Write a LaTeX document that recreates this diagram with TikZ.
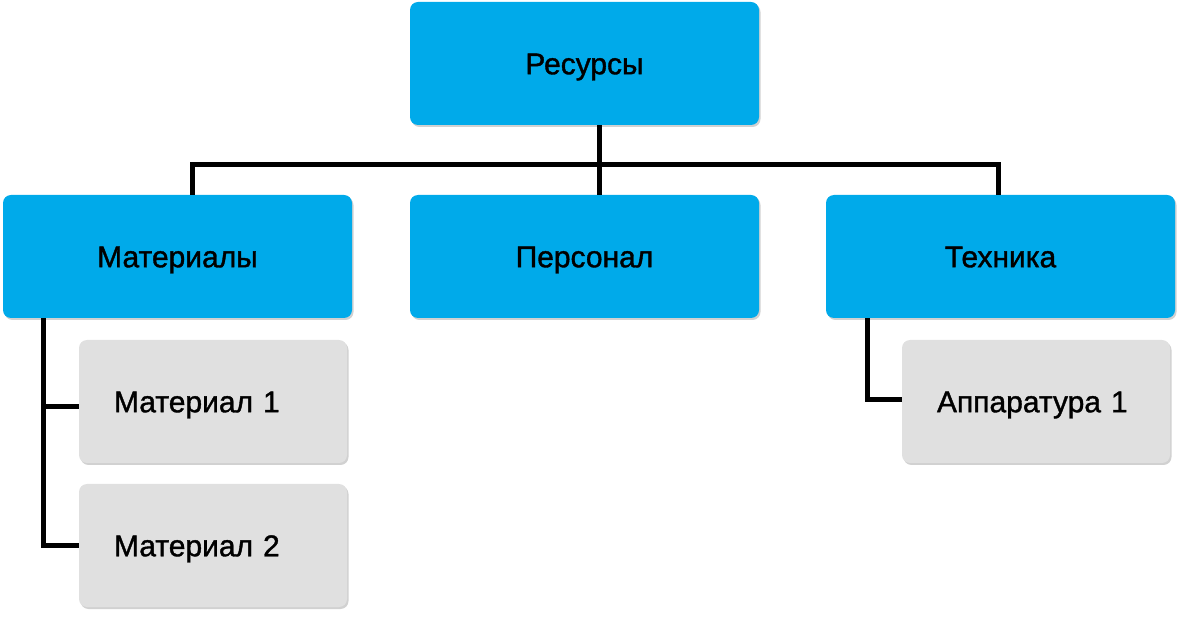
\documentclass[tikz,border=0pt]{standalone}
\usepackage{fontspec}
\setmainfont{Liberation Sans}
\newfontfamily\medfont{Liberation Sans}[FakeBold=1.2]
\usetikzlibrary{shadows}
\definecolor{topblue}{HTML}{00AAEA}
\definecolor{subgray}{HTML}{E0E0E0}
\tikzset{
  x=1pt, y=-1pt,
  boxfont/.style={font=\medfont\fontsize{30}{34}\selectfont, text=black, text height=21.5pt, text depth=0pt},
  bluebox/.style={boxfont, fill=topblue, rounded corners=8pt, minimum width=349pt, minimum height=123pt,
    inner sep=0pt,
    drop shadow={shadow xshift=1.5pt, shadow yshift=-2pt, opacity=0.18, fill=black}},
  graybox/.style={boxfont, fill=subgray, rounded corners=8pt, minimum width=268pt, minimum height=123pt,
    inner xsep=35pt, inner ysep=0pt, text width=198pt, align=left,
    drop shadow={shadow xshift=1.5pt, shadow yshift=-2pt, opacity=0.18, fill=black}},
  conn/.style={line width=5pt, line join=miter, draw=black}
}
\begin{document}
\begin{tikzpicture}
\useasboundingbox (0,0) rectangle (1184,617);
\node[bluebox] (res) at (584.5,63.5) {Ресурсы};
\node[bluebox] (mat) at (177.5,256.5) {Материалы};
\node[bluebox] (pers) at (584.5,256.5) {Персонал};
\node[bluebox] (tech) at (1000.5,256.5) {Техника};
\node[graybox] (m1) at (213,401.5) {Материал 1};
\node[graybox] (m2) at (213,545.5) {Материал 2};
\node[graybox] (ap) at (1036,401.5) {Аппаратура 1};
\coordinate (busL) at (192,165);
\coordinate (busR) at (998,165);
\coordinate (busM) at (599,165);
\coordinate (lv) at (43.5,0);
\coordinate (rv) at (867,0);
\draw[conn] (busM |- res.south) -- (busM |- pers.north);
\draw[conn] (busL |- mat.north) -- (busL) -- (busR) -- (busR |- tech.north);
\draw[conn] (lv |- mat.south) -- (lv |- m2.west) -- (m2.west);
\draw[conn] ([yshift=-5pt]lv |- m1.west) -- ([yshift=-5pt]m1.west);
\draw[conn] (rv |- tech.south) -- ([yshift=1.5pt]rv |- ap.west) -- ([yshift=1.5pt]ap.west);
\end{tikzpicture}
\end{document}
